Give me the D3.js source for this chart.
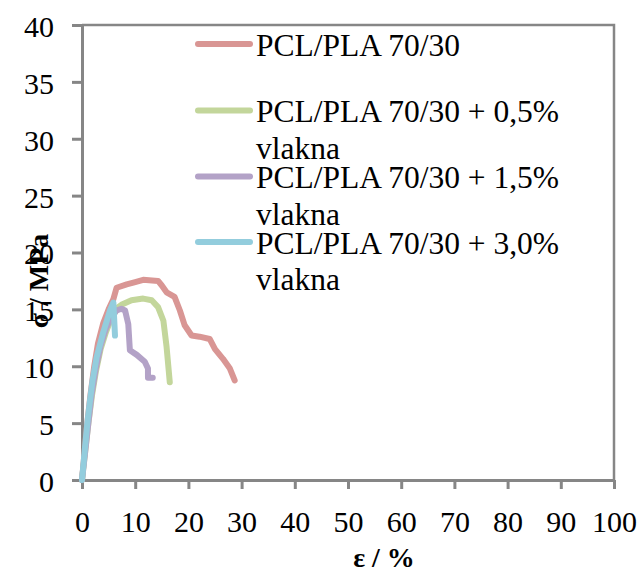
<!DOCTYPE html>
<html>
<head>
<meta charset="utf-8">
<script src="https://cdn.jsdelivr.net/npm/d3@7"></script>
<style>
  html, body { margin: 0; padding: 0; background: #fff; }
  svg { display: block; }
</style>
</head>
<body>
<svg id="chart" width="641" height="569"></svg>
<script>
// ---- data ----
const seriesNames = [
  ["PCL/PLA 70/30"],
  ["PCL/PLA 70/30 + 0,5%", "vlakna"],
  ["PCL/PLA 70/30 + 1,5%", "vlakna"],
  ["PCL/PLA 70/30 + 3,0%", "vlakna"]
];
const seriesColors = ["#D99694", "#C3D69B", "#B3A2C7", "#93CDDD"];

const pcl = [[0,0],[0.5,2.5],[1,5],[1.6,7.5],[2.3,10],[3,12],[4,13.8],[5,15],[5.9,15.9],[6.5,16.9],[8.4,17.2],[10,17.4],[11.5,17.6],[14.3,17.5],[15,17.1],[15.9,16.5],[17.4,16.1],[18.4,14.9],[19.3,13.6],[20.6,12.7],[22.1,12.6],[24,12.4],[25,11.5],[26.5,10.65],[27.8,9.8],[28.7,8.75]];
const fib05 = [[0,0],[0.6,2.5],[1.2,5],[1.9,7.5],[2.6,9.5],[3.5,11.5],[4.5,13],[5.5,14.2],[6.8,15.2],[7.4,15.4],[9.3,15.8],[11.5,15.95],[13.1,15.8],[14.3,15.2],[15.3,14],[15.9,11.7],[16.5,8.6]];
const fib15 = [[0,0],[0.6,2.5],[1.2,5],[1.8,7.5],[2.6,9.8],[3.5,11.8],[4.5,13.3],[5.5,14.3],[6.5,14.9],[7.4,15.06],[8.1,14.9],[8.7,13.7],[9,11.4],[10.3,11],[11.8,10.4],[12.4,9.8],[12.4,9.0],[13.3,9.0]];
const fib30 = [[0,0],[0.5,2.5],[1,5],[1.5,7],[2,8.8],[2.75,10.8],[4,13],[5.25,14.9],[5.9,15.6],[6.2,12.7]];

const xTicks = [0,10,20,30,40,50,60,70,80,90,100];
const yTicks = [0,5,10,15,20,25,30,35,40];
const xTitle = "ε / %";
const yTitle = "σ / MPa";

// ---- layout ----
const FONT = "'Liberation Serif', 'Times New Roman', serif";
const svg = d3.select("#chart");
const pLeft = 82, pRight = 614, pTop = 25, pBottom = 480;
const x = d3.scaleLinear().domain([0, 100]).range([pLeft, pRight]);
const y = d3.scaleLinear().domain([0, 40]).range([pBottom, pTop]);
const axisColor = "#868686";

// plot border (top & right)
svg.append("path")
  .attr("d", `M${pLeft},${pTop}H${pRight}V${pBottom}`)
  .attr("fill", "none").attr("stroke", axisColor).attr("stroke-width", 2.5);

// axes
const gx = svg.append("g").attr("transform", `translate(0,${pBottom})`)
  .call(d3.axisBottom(x).tickValues(xTicks).tickSize(9).tickPadding(24).tickSizeOuter(0));
const gy = svg.append("g").attr("transform", `translate(${pLeft},0)`)
  .call(d3.axisLeft(y).tickValues(yTicks).tickSize(10).tickPadding(18).tickSizeOuter(0));
[gx, gy].forEach(g => {
  g.attr("font-family", null).attr("font-size", null);
  g.select(".domain").attr("stroke", axisColor).attr("stroke-width", 3);
  g.selectAll(".tick line").attr("stroke", axisColor).attr("stroke-width", 3);
  g.selectAll(".tick text")
    .style("font-family", FONT)
    .style("font-size", "30px").attr("fill", "#000");
});
gy.selectAll(".tick text").attr("dy", "0.38em");
gx.selectAll(".tick text").attr("dy", "0.64em");

// series lines
const line = d3.line().x(d => x(d[0])).y(d => y(d[1]));
const allSeries = [pcl, fib05, fib15, fib30];
allSeries.forEach((s, i) => {
  svg.append("path").datum(s)
    .attr("d", line)
    .attr("fill", "none")
    .attr("stroke", seriesColors[i])
    .attr("stroke-width", 6)
    .attr("stroke-linejoin", "round")
    .attr("stroke-linecap", "round");
});

// legend
const legendY = [44, 110.5, 176.5, 242];
seriesNames.forEach((lines, i) => {
  const g = svg.append("g");
  g.append("line")
    .attr("x1", 198).attr("x2", 250)
    .attr("y1", legendY[i]).attr("y2", legendY[i])
    .attr("stroke", seriesColors[i]).attr("stroke-width", 6)
    .attr("stroke-linecap", "round");
  const t = g.append("text")
    .attr("x", 256).attr("y", legendY[i] + 11.5)
    .style("font-family", FONT).style("font-size", "31.5px").attr("fill", "#000");
  lines.forEach((ln, j) => {
    t.append("tspan").attr("x", 256).attr("dy", j === 0 ? 0 : 36.7).text(ln);
  });
});

// axis titles
svg.append("text")
  .attr("x", 384).attr("y", 567)
  .attr("text-anchor", "middle")
  .style("font-family", FONT).style("font-size", "28px").style("font-weight", "bold")
  .text(xTitle);
svg.append("text")
  .attr("transform", "translate(48,281) rotate(-90)")
  .attr("text-anchor", "middle")
  .style("font-family", FONT).style("font-size", "28px").style("font-weight", "bold")
  .text(yTitle);
</script>
</body>
</html>
